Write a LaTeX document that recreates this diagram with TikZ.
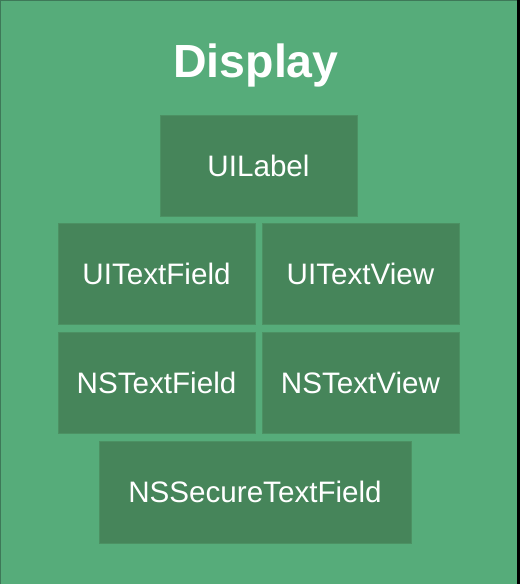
\documentclass[tikz,border=0pt]{standalone}
\usepackage{fontspec}
\setmainfont{Liberation Sans}
\definecolor{bggreen}{RGB}{86,172,122}
\definecolor{boxgreen}{RGB}{70,133,90}
\definecolor{boxedge}{RGB}{76,145,99}
\definecolor{edgedark}{RGB}{62,120,88}
\begin{document}
\begin{tikzpicture}[x=1pt,y=-1pt,
  item/.style={draw=boxedge, line width=0.8pt, fill=boxgreen, text=white, inner sep=0pt, font=\fontsize{29.6}{31}\selectfont},
  titletext/.style={text=white, font=\fontsize{46.5}{50}\selectfont\bfseries, inner sep=0pt, anchor=base}]
\useasboundingbox (0,0) rectangle (520,584);
\fill[bggreen] (0,0) rectangle (520,584);
\fill[black] (517,0) rectangle (520,584);
\fill[edgedark] (0,0) rectangle (517,1);
\fill[edgedark] (0,0) rectangle (1,584);
\node[titletext] (title) at (256,77) {Display};
\node[item, minimum width=197pt, minimum height=101pt] (uilabel) at (258.5,165.5) {UILabel};
\node[item, minimum width=197pt, minimum height=101pt] (uitextfield) at (156.5,274) {UITextField};
\node[item, minimum width=197pt, minimum height=101pt] (uitextview) at (360.5,274) {UITextView};
\node[item, minimum width=197pt, minimum height=101pt] (nstextfield) at (156.5,383) {NSTextField};
\node[item, minimum width=197pt, minimum height=101pt] (nstextview) at (360.5,383) {NSTextView};
\node[item, minimum width=312pt, minimum height=102pt] (nssecure) at (255,492) {NSSecureTextField};
\end{tikzpicture}
\end{document}
